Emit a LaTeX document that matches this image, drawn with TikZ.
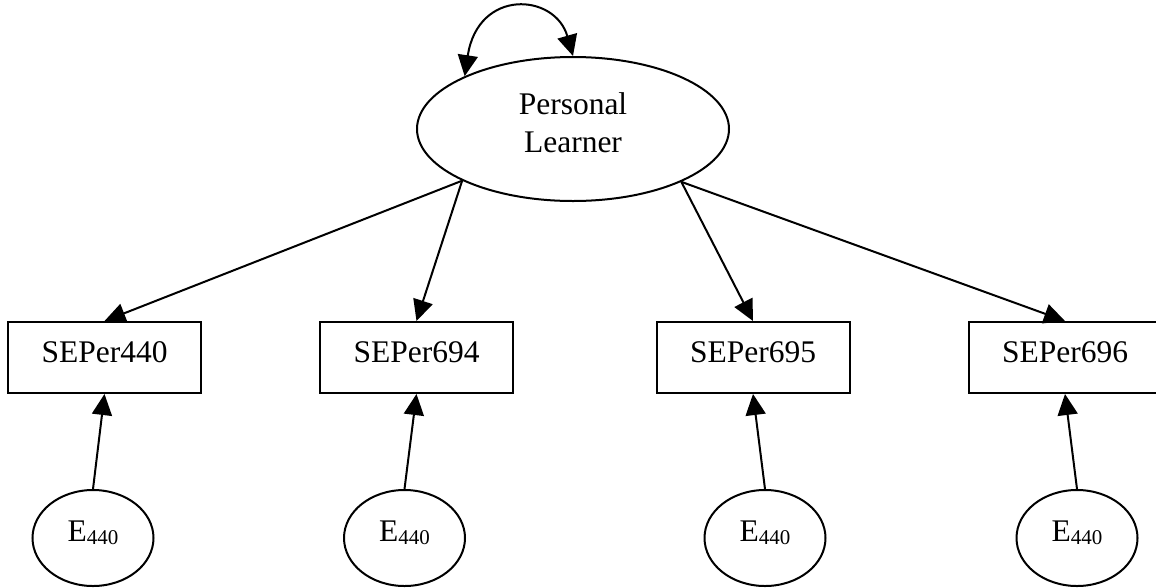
\documentclass[tikz,border=0pt]{standalone}
\usepackage{fontspec}
\setmainfont{Liberation Serif}
\usetikzlibrary{shapes.geometric,arrows.meta}
\newcommand{\upby}[2]{\raisebox{#1}[\height][\depth]{#2}}
\newcommand{\errlabel}{\upby{5pt}{E\raisebox{-3pt}{\fontsize{21}{24}\selectfont 440}}}
\begin{document}
\begin{tikzpicture}[x=1pt,y=-1pt,
  font=\fontsize{31.5}{38}\selectfont,
  every path/.style={line width=2pt},
  latent/.style={draw,ellipse,line width=2pt,inner sep=0pt},
  observed/.style={draw,rectangle,line width=2pt,inner sep=0pt,minimum width=193pt,minimum height=71pt},
  errnode/.style={draw,ellipse,line width=2pt,inner sep=0pt,minimum width=121pt,minimum height=96pt},
  arr/.style={-{Triangle[length=21pt,width=20pt]},line width=2pt},
  dblarr/.style={{Triangle[length=21pt,width=20pt]}-{Triangle[length=21pt,width=20pt]},line width=2pt}]
\useasboundingbox (0,0) rectangle (1156,587);

\node[latent,minimum width=312pt,minimum height=144pt] (pl) at (573,129)
  {\upby{3pt}{\begin{tabular}{@{}c@{}}Personal\\Learner\end{tabular}}};

\node[observed] (b1) at (104.5,357.5) {\upby{5pt}{SEPer440}};
\node[observed] (b2) at (416.5,357.5) {\upby{5pt}{SEPer694}};
\node[observed] (b3) at (753,357.5) {\upby{5pt}{SEPer695}};
\node[observed] (b4) at (1065,357.5) {\upby{5pt}{SEPer696}};

\node[errnode] (e1) at (93,538) {\errlabel};
\node[errnode] (e2) at (404.5,538) {\errlabel};
\node[errnode] (e3) at (765,538) {\errlabel};
\node[errnode] (e4) at (1077,538) {\errlabel};

\draw[dblarr] (pl.154.7) .. controls (478,-12) and (555,-7) .. (pl.north);

\draw[arr] (pl.205.5) -- (b1.north);
\draw[arr] (pl.205.5) -- (b2.north);
\draw[arr] (pl.334.5) -- (b3.north);
\draw[arr] (pl.334.5) -- (b4.north);

\draw[arr] (e1.north) -- (b1.south);
\draw[arr] (e2.north) -- (b2.south);
\draw[arr] (e3.north) -- (b3.south);
\draw[arr] (e4.north) -- (b4.south);
\end{tikzpicture}
\end{document}
